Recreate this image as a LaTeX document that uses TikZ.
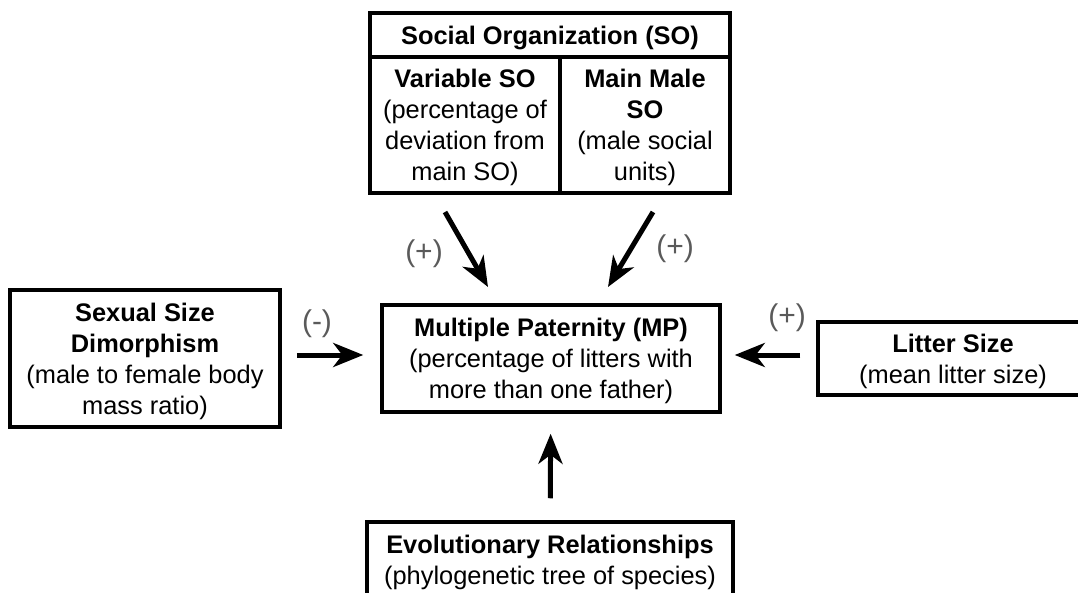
\documentclass[tikz,border=0pt]{standalone}
\usepackage{fontspec}
\setmainfont{Liberation Sans}
\usetikzlibrary{arrows.meta}
\definecolor{signgray}{HTML}{5a5a5a}

\begin{document}
\begin{tikzpicture}[x=1pt, y=-1pt, line width=3.5pt,
    box/.style={draw, rectangle, inner sep=0pt, align=center, text depth=0pt, font=\fontsize{25.4}{31}\selectfont},
    sign/.style={text=signgray, inner sep=0pt, font=\fontsize{30}{34}\selectfont},
    link/.style={line width=5pt, -{Stealth[length=30pt, width=24pt, inset=9pt]}}]
    \useasboundingbox (0, 0) rectangle (1078, 593);

    % draw social organization block
    \node[box, minimum width=360, minimum height=44] (so) at (550, 35) {\textbf{Social Organization (SO)}};
    \node[box, minimum width=190, minimum height=136] (vso) at (465, 125) {\textbf{Variable SO}\\(percentage of\\deviation from\\main SO)};
    \node[box, minimum width=170, minimum height=136] (mso) at (645, 125) {\textbf{Main Male}\\\textbf{SO}\\(male social\\units)};

    % draw center and side boxes
    \node[box, minimum width=338, minimum height=107] (mp) at (551, 358.5) {\textbf{Multiple Paternity (MP)}\\(percentage of litters with\\more than one father)};
    \node[box, minimum width=270, minimum height=137] (ssd) at (145, 358.5) {\textbf{Sexual Size}\\\textbf{Dimorphism}\\(male to female body\\mass ratio)};
    \node[box, minimum width=270, minimum height=73] (lit) at (953, 358.5) {\textbf{Litter Size}\\(mean litter size)};
    \node[box, minimum width=366, minimum height=76] (evo) at (550, 560) {\textbf{Evolutionary Relationships}\\(phylogenetic tree of species)};

    % draw arrows
    \coordinate (vso-from) at (445, 212);
    \coordinate (vso-to) at (488, 287);
    \coordinate (mso-from) at (653, 212);
    \coordinate (mso-to) at (608, 287);
    \draw[link] (vso-from) -- (vso-to);
    \draw[link] (mso-from) -- (mso-to);
    \draw[link, shorten <=15pt, shorten >=17pt] ([yshift=3.5pt]ssd.east) -- ([yshift=3.5pt]mp.west);
    \draw[link, shorten <=16pt, shorten >=13pt] ([yshift=3.5pt]lit.west) -- ([yshift=3.5pt]mp.east);
    \draw[link, shorten <=22pt, shorten >=20pt] (evo) -- (mp);

    % signs
    \node[sign] (vso-sign) at (424, 254) {(+)};
    \node[sign] (mso-sign) at (675, 249) {(+)};
    \node[sign] (ssd-sign) at (317, 324) {(-)};
    \node[sign] (lit-sign) at (787, 318) {(+)};
\end{tikzpicture}
\end{document}
